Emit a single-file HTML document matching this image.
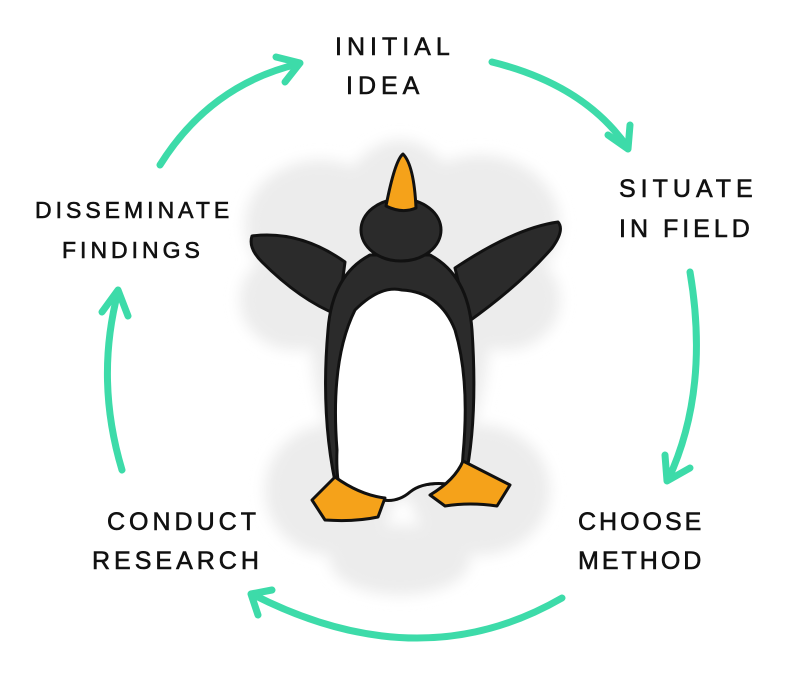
<!DOCTYPE html>
<html><head><style>html,body{margin:0;padding:0;background:#fff}svg{display:block}</style></head>
<body>
<svg width="800" height="677" viewBox="0 0 800 677" xmlns="http://www.w3.org/2000/svg">
<defs><filter id="b"><feGaussianBlur stdDeviation="7"/></filter></defs>
<g fill="#ececec" filter="url(#b)">
<ellipse cx="320" cy="225" rx="75" ry="65"/>
<ellipse cx="480" cy="225" rx="80" ry="70"/>
<ellipse cx="295" cy="300" rx="55" ry="50"/>
<ellipse cx="505" cy="300" rx="55" ry="50"/>
<ellipse cx="400" cy="320" rx="90" ry="180"/>
<ellipse cx="330" cy="490" rx="65" ry="65"/>
<ellipse cx="480" cy="490" rx="70" ry="65"/>
<ellipse cx="400" cy="560" rx="70" ry="35"/>
</g>
<g fill="none" stroke="#3ddba9" stroke-width="7" stroke-linecap="round" stroke-linejoin="round">
<path d="M160 165 Q210 85 298 64"/><path d="M276 57 L300 63 L285 82"/>
<path d="M492 62 Q585 85 628 148"/><path d="M608 135 L628 149 L630 125"/>
<path d="M690 272 Q710 390 668 480"/><path d="M665 455 L667 481 L690 468"/>
<path d="M562 598 Q420 680 252 594"/><path d="M272 590 L251 594 L258 615"/>
<path d="M122 470 Q95 380 118 292"/><path d="M102 312 L118 290 L128 316"/>
</g>
<g stroke="#111" stroke-width="3" stroke-linejoin="round">
<path d="M252 236 Q300 230 345 262 L338 315 Q300 300 262 262 Q248 248 252 236Z" fill="#2b2b2b"/>
<path d="M558 222 Q515 228 455 268 L468 322 Q520 285 552 248 Q565 230 558 222Z" fill="#2b2b2b"/>
<path d="M370 255 Q332 275 328 330 Q320 420 338 495 L465 480 Q478 420 472 330 Q468 275 430 255Z" fill="#2b2b2b"/>
<ellipse cx="401" cy="230" rx="40" ry="31" fill="#2b2b2b"/>
<path d="M386 206 Q395 160 403 154 Q414 165 416 208 Q402 214 386 206Z" fill="#f5a21a"/>
<path d="M337 450 Q330 360 355 310 Q380 285 402 290 Q440 292 455 330 Q470 380 463 455 Q462 478 455 485 Q425 480 410 492 Q395 505 375 498 Q355 490 340 490 Q336 475 337 450Z" fill="#fff"/>
<path d="M312 500 L335 477 Q360 495 385 498 L378 517 Q355 522 325 520 Z" fill="#f5a21a"/>
<path d="M430 495 Q455 480 463 461 L510 485 L497 506 Q470 502 445 506 Z" fill="#f5a21a"/>
</g>
<g font-family="Liberation Sans, sans-serif" font-size="25" fill="#111" stroke="#111" stroke-width="0.6" letter-spacing="5">
<text x="335" y="55">INITIAL</text>
<text x="346" y="94">IDEA</text>
<text x="619" y="197">SITUATE</text>
<text x="619" y="237" letter-spacing="4">IN FIELD</text>
<text x="35" y="218" font-size="23" letter-spacing="4">DISSEMINATE</text>
<text x="62" y="258" font-size="23" letter-spacing="4">FINDINGS</text>
<text x="107" y="530" letter-spacing="4">CONDUCT</text>
<text x="92" y="569" letter-spacing="4">RESEARCH</text>
<text x="578" y="530" letter-spacing="3">CHOOSE</text>
<text x="578" y="569" letter-spacing="3">METHOD</text>
</g>
</svg>
</body></html>
